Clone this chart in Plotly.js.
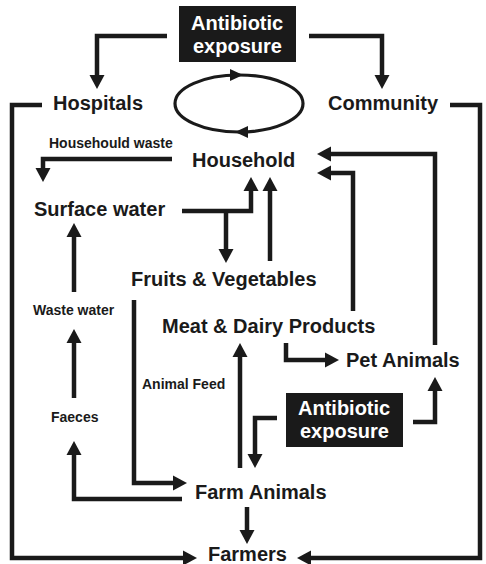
<!DOCTYPE html>
<html>
<head>
<meta charset="utf-8">
<script src="https://cdn.plot.ly/plotly-3.0.1.min.js"></script>
<style>html,body{margin:0;padding:0;background:#fff;}#chart{width:486px;height:564px;}</style>
</head>
<body>
<div id="chart"></div>
<script>
// ---- Diagram content (nodes and flows) ----
const nodeNames = ["Antibiotic exposure (top)", "Hospitals", "Community", "Household", "Surface water",
  "Fruits & Vegetables", "Waste water", "Meat & Dairy Products", "Pet Animals", "Faeces",
  "Antibiotic exposure (farm)", "Farm Animals", "Farmers"];
const nodeTexts = ["Antibiotic|exposure", "Hospitals", "Community", "Household", "Surface water",
  "Fruits & Vegetables", "Waste water", "Meat & Dairy Products", "Pet Animals", "Faeces",
  "Antibiotic|exposure", "Farm Animals", "Farmers"];
const edgeFrom = ["Antibiotic exposure (top)", "Antibiotic exposure (top)", "Hospitals", "Community",
  "Household", "Surface water", "Surface water", "Fruits & Vegetables", "Meat & Dairy Products",
  "Pet Animals", "Waste water", "Faeces", "Farm Animals", "Fruits & Vegetables",
  "Meat & Dairy Products", "Farm Animals", "Antibiotic exposure (farm)", "Antibiotic exposure (farm)",
  "Farm Animals"];
const edgeTo = ["Hospitals", "Community", "Farmers", "Farmers", "Surface water", "Household",
  "Fruits & Vegetables", "Household", "Household", "Household", "Surface water", "Waste water",
  "Faeces", "Farm Animals", "Pet Animals", "Meat & Dairy Products", "Farm Animals", "Pet Animals",
  "Farmers"];
const edgeLabels = ["", "", "", "", "Househould waste", "", "", "", "", "", "", "", "", "Animal Feed",
  "", "", "", "", ""];

// ---- Layout geometry (pixel space, y downward) ----
const nodePos = {
  "Antibiotic exposure (top)": {x: 237, y: 23, box: [179, 6, 296, 62], size: 20},
  "Hospitals": {x: 98, y: 103, size: 20},
  "Community": {x: 383, y: 103, size: 20},
  "Household": {x: 243, y: 160, size: 20},
  "Surface water": {x: 99, y: 209, size: 20},
  "Fruits & Vegetables": {x: 224, y: 279, size: 20},
  "Waste water": {x: 74, y: 310, size: 14},
  "Meat & Dairy Products": {x: 268, y: 326, size: 20},
  "Pet Animals": {x: 403, y: 360, size: 20},
  "Faeces": {x: 75, y: 417, size: 14},
  "Antibiotic exposure (farm)": {x: 344, y: 408, box: [286, 393, 403, 447], size: 20},
  "Farm Animals": {x: 261, y: 492, size: 20},
  "Farmers": {x: 247, y: 554, size: 20}
};
const edgeLabelPos = [null, null, null, null, {x: 111, y: 143}, null, null, null, null, null, null, null,
  null, {x: 183, y: 384}, null, null, null, null, null];
const routes = [
  [[167,36],[97,36],[97,89]],
  [[309,36],[382,36],[382,89]],
  [[42,105],[12,105],[12,558],[197,558]],
  [[450,105],[480,105],[480,558],[297,558]],
  [[172,159],[43,159],[43,182]],
  [[182,211],[251,211],[251,177]],
  [[226,211],[226,263]],
  [[270,261],[270,177]],
  [[353,311],[353,173],[317,173]],
  [[435,345],[435,154],[317,154]],
  [[74,292],[74,223]],
  [[74,398],[74,329]],
  [[182,499],[74,499],[74,441]],
  [[134,300],[134,483],[187,483]],
  [[286,343],[286,360],[339,360]],
  [[240,468],[240,343]],
  [[277,418],[255,418],[255,468]],
  [[413,422],[435,422],[435,377]],
  [[247,507],[247,544]]
];
const cycle = {cx: 239, cy: 103.5, rx: 64, ry: 28.5};

const LW = 4.5, AL = 14, AH = 7.5;
const INK = '#1a1a1a';
const FONT = "Arial, 'Liberation Sans', Helvetica, sans-serif";
const shapes = [];
const annotations = [];

function arrowHead(tip, dir, len, half) {
  const [tx, ty] = tip, [dx, dy] = dir;
  const bx = tx - dx * len, by = ty - dy * len;
  const px = -dy, py = dx;
  return `M${tx},${ty} L${bx + px*half},${by + py*half} L${bx - px*half},${by - py*half} Z`;
}

routes.forEach((pts) => {
  const n = pts.length;
  const [x1, y1] = pts[n-2], [x2, y2] = pts[n-1];
  const L = Math.hypot(x2-x1, y2-y1);
  const dir = [(x2-x1)/L, (y2-y1)/L];
  const end = [x2 - dir[0]*(AL-2), y2 - dir[1]*(AL-2)];
  let d = `M${pts[0][0]},${pts[0][1]}`;
  for (let i = 1; i < n-1; i++) d += ` L${pts[i][0]},${pts[i][1]}`;
  d += ` L${end[0]},${end[1]}`;
  shapes.push({type: 'path', path: d, xref: 'x', yref: 'y', line: {color: INK, width: LW}, layer: 'above'});
  shapes.push({type: 'path', path: arrowHead([x2, y2], dir, AL, AH), xref: 'x', yref: 'y',
    fillcolor: INK, line: {color: INK, width: 0}, layer: 'above'});
});

// cycle ellipse with two arrowheads
shapes.push({type: 'circle', xref: 'x', yref: 'y', x0: cycle.cx - cycle.rx, x1: cycle.cx + cycle.rx,
  y0: cycle.cy - cycle.ry, y1: cycle.cy + cycle.ry, line: {color: INK, width: 3.2}, layer: 'above'});
shapes.push({type: 'path', path: arrowHead([cycle.cx + 4, cycle.cy - cycle.ry], [1, 0], 13, 6),
  fillcolor: INK, line: {width: 0}, layer: 'above'});
shapes.push({type: 'path', path: arrowHead([cycle.cx - 4, cycle.cy + cycle.ry], [-1, 0], 13, 6),
  fillcolor: INK, line: {width: 0}, layer: 'above'});

nodeNames.forEach((name, i) => {
  const p = nodePos[name];
  const parts = nodeTexts[i].split('|');
  const color = p.box ? '#ffffff' : INK;
  if (p.box) {
    shapes.push({type: 'rect', xref: 'x', yref: 'y', x0: p.box[0], y0: p.box[1], x1: p.box[2], y1: p.box[3],
      fillcolor: INK, line: {width: 0}, layer: 'above'});
  }
  parts.forEach((t, j) => {
    annotations.push({x: p.x, y: p.y + j * 23, xref: 'x', yref: 'y', text: '<b>' + t + '</b>',
      showarrow: false, xanchor: 'center', yanchor: 'middle',
      font: {family: FONT, size: p.size, color: color}});
  });
});
edgeLabels.forEach((t, i) => {
  if (!t) return;
  const p = edgeLabelPos[i];
  annotations.push({x: p.x, y: p.y, xref: 'x', yref: 'y', text: '<b>' + t + '</b>', showarrow: false,
    xanchor: 'center', yanchor: 'middle', font: {family: FONT, size: 14, color: INK}});
});

const layout = {
  width: 486, height: 564,
  margin: {l: 0, r: 0, t: 0, b: 0},
  paper_bgcolor: '#ffffff', plot_bgcolor: '#ffffff',
  xaxis: {range: [0, 486], visible: false, fixedrange: true},
  yaxis: {range: [564, 0], visible: false, fixedrange: true},
  showlegend: false,
  shapes: shapes,
  annotations: annotations
};
Plotly.newPlot('chart', [{x: [], y: [], type: 'scatter', hoverinfo: 'skip'}], layout, {staticPlot: true, displayModeBar: false});
</script>
</body>
</html>
